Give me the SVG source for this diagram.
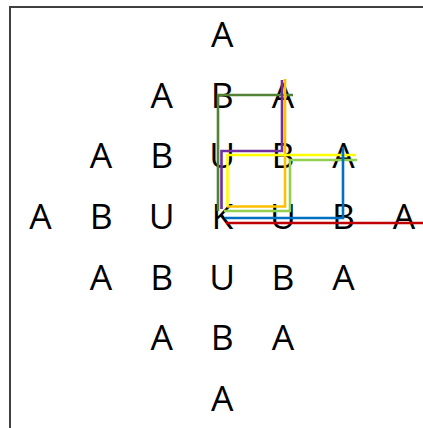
<svg xmlns="http://www.w3.org/2000/svg" width="423" height="428" viewBox="0 0 423 428">
<style>
text{font-family:"Open Sans","Noto Sans","Liberation Sans",sans-serif;font-size:35.5px;fill:#000;text-anchor:middle}
.ln{fill:none;stroke-width:2.6;stroke-linejoin:miter;stroke-linecap:butt}
</style>
<rect width="423" height="428" fill="#fff"/>
<path d="M10,428 V7 H423" fill="none" stroke="#404040" stroke-width="2"/>
<g id="letters">
<g id="r1"><text x="222.3" y="47">A</text></g>
<g id="r2"><text x="161.7" y="107.7">A</text><text x="222.3" y="107.7">B</text><text x="282.9" y="107.7">A</text></g>
<g id="r3"><text x="101.1" y="168.3">A</text><text x="161.7" y="168.3">B</text><text x="222.3" y="168.3">U</text><text x="282.9" y="168.3">B</text><text x="343.5" y="168.3">A</text></g>
<g id="r4"><text x="40.5" y="229">A</text><text x="101.1" y="229">B</text><text x="161.7" y="229">U</text><text x="222.3" y="229">K</text><text x="282.9" y="229">U</text><text x="343.5" y="229">B</text><text x="404.1" y="229">A</text></g>
<g id="r5"><text x="101.1" y="289.7">A</text><text x="161.7" y="289.7">B</text><text x="222.3" y="289.7">U</text><text x="282.9" y="289.7">B</text><text x="343.5" y="289.7">A</text></g>
<g id="r6"><text x="161.7" y="350.3">A</text><text x="222.3" y="350.3">B</text><text x="282.9" y="350.3">A</text></g>
<g id="r7"><text x="222.3" y="411">A</text></g>
</g>
<g id="connectors">
<path class="ln" stroke="#548235" d="M293,95 H218 V211"/>
<path class="ln" stroke="#7030A0" d="M282,80 V151 H221.5 V209"/>
<path class="ln" stroke="#FFC000" d="M285,79 V206.5 H227"/>
<path class="ln" stroke="#FFFF00" d="M356,155 H227.5 V206"/>
<path class="ln" stroke="#92D050" d="M357,160 H290 V211 H224"/>
<path class="ln" stroke="#0070C0" d="M343,147 V218 H225"/>
<path class="ln" stroke="#C00000" d="M226,223 H423"/>
</g>
</svg>
